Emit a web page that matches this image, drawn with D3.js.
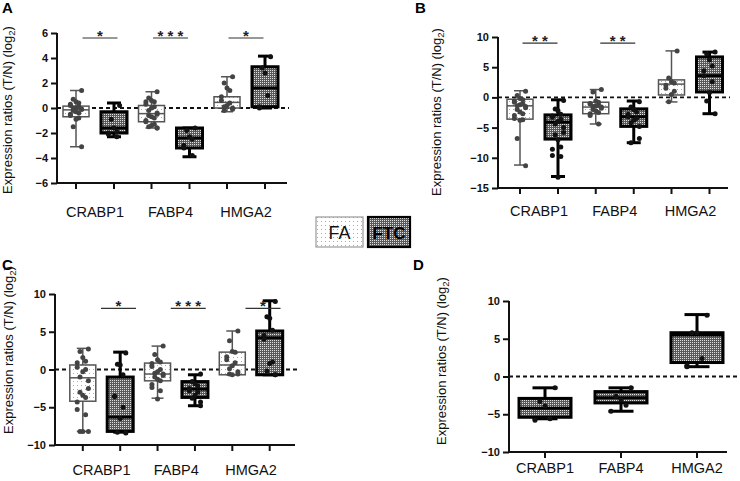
<!DOCTYPE html>
<html><head><meta charset="utf-8">
<script src="https://cdn.jsdelivr.net/npm/d3@7"></script>
<style>body{margin:0;background:#fff}svg{display:block;font-family:"Liberation Sans",Arial,sans-serif}</style>
</head><body><svg id="c" width="740" height="481"></svg>
<script>
const categories = ["CRABP1","FABP4","HMGA2"];
const groups = ["FA","FTC"];
// box stats: [min, q1, median, q3, max]
const statsA_FA  = [[-3.1,-0.7,-0.15,0.15,1.4],[-1.6,-1.1,-0.45,0.2,1.3],[-0.3,0.0,0.45,0.9,2.5]];
const statsA_FTC = [[-2.3,-2.0,-1.6,-0.3,0.4],[-3.9,-3.2,-2.4,-1.6,-1.6],[0.0,0.1,1.6,3.3,4.15]];
const statsB_FA  = [[-11.2,-3.6,-1.4,-0.3,1.1],[-4.4,-2.7,-1.6,-0.8,1.3],[-0.75,0.4,2.2,2.9,7.7]];
const statsB_FTC = [[-13.1,-6.9,-4.1,-2.9,-0.4],[-7.5,-4.8,-3.2,-1.9,-0.6],[-2.7,0.9,3.6,6.7,7.5]];
const statsC_FA  = [[-8.2,-4.2,-1.1,0.6,2.8],[-3.8,-1.5,-0.6,0.85,3.1],[-0.7,-0.7,0.6,2.3,5.1]];
const statsC_FTC = [[-8.3,-8.2,-6.3,-1.0,2.3],[-4.8,-3.7,-2.6,-1.6,-0.7],[-0.7,-0.7,4.2,5.1,9.1]];
const statsD     = [[-5.6,-5.4,-4.2,-2.9,-1.5],[-4.6,-3.5,-2.8,-2.0,-1.5],[1.3,1.85,5.5,5.8,8.2]];
// individual points
const ptsA_FA = [
 [1.4,0.7,0.5,0.4,0.3,0.2,0.1,0.0,0.0,-0.1,-0.1,-0.2,-0.3,-0.4,-0.5,-0.6,-0.8,-0.9,-1.5,-3.1],
 [1.3,0.8,0.6,0.5,0.5,0.3,0.1,0.0,-0.2,-0.4,-0.5,-0.6,-0.7,-0.8,-1.0,-1.1,-1.3,-1.4,-1.5,-1.6,-1.6],
 [2.5,2.0,1.6,1.4,0.9,0.6,0.4,0.2,0.1,0.0,-0.1,-0.2]];
const ptsA_FTC = [
 [0.2,-0.9,-1.6,-1.9,-2.0,-2.1,-2.3],
 [-1.6,-1.8,-2.3,-2.5,-3.0,-3.2,-3.8],
 [4.1,3.2,2.8,1.0,0.1,0.0]];
const ptsB_FA = [
 [1.0,0.3,-0.2,-0.4,-0.6,-0.8,-1.0,-1.2,-1.4,-1.5,-1.7,-2.0,-2.4,-2.7,-3.0,-3.5,-3.7,-3.8,-6.8,-11.3],
 [1.3,0.9,-0.6,-0.8,-1.0,-1.1,-1.3,-1.4,-1.5,-1.6,-1.8,-2.0,-2.2,-2.5,-2.7,-3.0,-4.4],
 [7.7,3.2,2.6,2.4,2.0,1.5,1.0,0.5,-0.7]];
const ptsB_FTC = [
 [-0.5,-1.9,-2.2,-2.8,-3.1,-3.3,-3.6,-4.0,-4.4,-5.0,-5.8,-6.2,-7.0,-8.2,-8.6,-9.6,-9.8,-13.2],
 [-0.7,-1.6,-2.0,-2.4,-2.8,-3.2,-3.5,-3.8,-4.2,-4.8,-6.8,-7.5],
 [7.5,7.2,6.2,5.2,4.4,3.6,2.6,0.8,-0.6,-2.7]];
const ptsC_FA = [
 [2.7,2.4,1.6,1.1,0.9,0.3,0.0,-0.3,-1.0,-1.5,-2.5,-3.0,-3.4,-3.7,-4.3,-5.3,-6.0,-8.2,-8.2,-8.2],
 [3.1,2.0,1.3,1.0,0.8,0.4,0.0,-0.3,-0.5,-0.6,-0.8,-1.0,-1.3,-1.5,-2.0,-2.4,-2.8,-3.9],
 [5.1,3.8,2.4,2.3,1.7,1.3,0.9,0.5,0.1,-0.3,-0.6,-0.6,-0.7]];
const ptsC_FTC = [
 [2.2,0.7,0.6,-0.7,-3.5,-3.6,-5.0,-6.5,-8.3,-8.3,-8.4],
 [-0.6,-1.6,-1.9,-2.2,-2.5,-2.8,-3.0,-3.4,-3.8,-4.3,-4.8],
 [9.0,7.0,6.8,5.2,4.5,4.0,1.0,0.8,-0.2,-0.7,-0.7]];
const ptsD = [[-1.5,-3.3,-3.9,-5.6,-5.8],[-1.5,-2.6,-3.1,-3.8,-4.6],[8.1,5.8,5.8,2.4,1.5,1.3]];
// significance: category, level, stars
const sigA = [["CRABP1",5.6,"*"],["FABP4",5.6,"* * *"],["HMGA2",5.6,"*"]];
const sigB = [["CRABP1",9.0,"* *"],["FABP4",9.0,"* *"]];
const sigC = [["CRABP1",8.1,"*"],["FABP4",8.1,"* * *"],["HMGA2",8.1,"*"]];
const ticksA = [-6,-4,-2,0,2,4,6];
const ticksB = [-15,-10,-5,0,5,10];
const ticksC = [-10,-5,0,5,10];
const ticksD = [-10,-5,0,5,10];
const yTitle = "Expression ratios (T/N) (log";

const svg = d3.select("#c");
const defs = svg.append("defs");
const pFA = defs.append("pattern").attr("id","pFA").attr("width",4).attr("height",4).attr("patternUnits","userSpaceOnUse");
pFA.append("rect").attr("width",4).attr("height",4).attr("fill","#fff");
pFA.append("rect").attr("x",1).attr("y",1).attr("width",1).attr("height",1).attr("fill","#aaa");
const pFTC = defs.append("pattern").attr("id","pFTC").attr("width",2).attr("height",2).attr("patternUnits","userSpaceOnUse");
pFTC.append("rect").attr("width",2).attr("height",2).attr("fill","#5a5a5a");
pFTC.append("rect").attr("width",1).attr("height",1).attr("fill","#e0e0e0");

const panels = [
 {letter:"A", lx:2, ly:13, ticks:ticksA, dom:[-6,6], yr:[183,33], ax:[57,287], cr:[95,246], off:19, bw:26,
  series:[{g:"FA",s:statsA_FA,p:ptsA_FA},{g:"FTC",s:statsA_FTC,p:ptsA_FTC}], sig:sigA, sigShift:[5,0,0],
  tx:12, ty:110, labY:217, zeroEnd:289},
 {letter:"B", lx:415, ly:13, ticks:ticksB, dom:[-15,10], yr:[188,37], ax:[498,728], cr:[539,690.5], off:19, bw:26,
  series:[{g:"FA",s:statsB_FA,p:ptsB_FA},{g:"FTC",s:statsB_FTC,p:ptsB_FTC}], sig:sigB, sigShift:[1,3,0],
  tx:441, ty:112, labY:216, zeroEnd:730},
 {letter:"C", lx:2, ly:270, ticks:ticksC, dom:[-10,10], yr:[445,294], ax:[55,295], cr:[101.5,251], off:18.7, bw:26,
  series:[{g:"FA",s:statsC_FA,p:ptsC_FA},{g:"FTC",s:statsC_FTC,p:ptsC_FTC}], sig:sigC, sigShift:[17,12,12],
  tx:13, ty:350, labY:475, zeroEnd:297},
 {letter:"D", lx:413, ly:270, ticks:ticksD, dom:[-10,10], yr:[452,301], ax:[509,727], cr:[545,697], off:0, bw:52,
  series:[{g:"FTC",s:statsD,p:ptsD}], sig:[], sigShift:[],
  tx:446, ty:361, labY:473, zeroEnd:740}
];

panels.forEach(P => {
  const g = svg.append("g");
  const y = d3.scaleLinear().domain(P.dom).range(P.yr);
  const x = d3.scalePoint().domain(categories).range(P.cr);
  const sub = d3.scalePoint().domain(P.series.map(s=>s.g)).range(P.series.length>1?[-P.off,P.off]:[0,0]);
  // panel letter
  g.append("text").attr("x",P.lx).attr("y",P.ly).attr("font-size",15).attr("font-weight","bold").text(P.letter);
  // y title
  const t = g.append("text").attr("transform",`translate(${P.tx},${P.ty}) rotate(-90)`).attr("text-anchor","middle")
    .attr("font-size",13).attr("fill","#111");
  t.append("tspan").text(yTitle);
  t.append("tspan").attr("font-size",9.5).attr("dy",3).text("2");
  t.append("tspan").attr("dy",-3).text(")");
  // y axis
  const ya = g.append("g").attr("transform",`translate(${P.ax[0]},0)`)
    .call(d3.axisLeft(y).tickValues(P.ticks).tickSize(6).tickPadding(3).tickFormat(d3.format("d")));
  ya.select(".domain").attr("stroke","#111").attr("stroke-width",2).attr("d",`M0,${y(P.dom[1])}V${y(P.dom[0])}`);
  ya.selectAll(".tick line").attr("stroke","#111").attr("stroke-width",2);
  ya.selectAll(".tick text").attr("font-size",11).attr("font-weight","bold").attr("fill","#111").attr("font-family","Liberation Sans, Arial");
  // x axis
  const yb = y(P.dom[0]);
  g.append("line").attr("x1",P.ax[0]-1).attr("x2",P.ax[1]).attr("y1",yb).attr("y2",yb).attr("stroke","#111").attr("stroke-width",2);
  const tickPos = [];
  categories.forEach(c => P.series.forEach(s => tickPos.push(x(c)+sub(s.g))));
  g.selectAll(".xt").data(tickPos).join("line").attr("x1",d=>d).attr("x2",d=>d).attr("y1",yb).attr("y2",yb+6)
    .attr("stroke","#111").attr("stroke-width",2);
  g.selectAll(".xl").data(categories).join("text").attr("x",d=>x(d)).attr("y",P.labY).attr("text-anchor","middle")
    .attr("font-size",14.5).attr("fill","#111").text(d=>d);
  // zero dashed line
  g.append("line").attr("x1",P.ax[0]).attr("x2",P.zeroEnd).attr("y1",y(0)).attr("y2",y(0))
    .attr("stroke","#111").attr("stroke-width",1.8).attr("stroke-dasharray","4,3");
  // boxes
  P.series.forEach(S => {
    const isFA = S.g==="FA";
    const col = isFA ? "#555" : "#000";
    const sw = isFA ? 1.5 : 3;
    const cap = P.off===0 ? 25 : (isFA ? 12 : 14);
    categories.forEach((c,i) => {
      const st = S.s[i];
      const cx = x(c)+sub(S.g);
      const bg = g.append("g");
      bg.append("line").attr("x1",cx).attr("x2",cx).attr("y1",y(st[4])).attr("y2",y(st[3])).attr("stroke",col).attr("stroke-width",sw);
      bg.append("line").attr("x1",cx).attr("x2",cx).attr("y1",y(st[1])).attr("y2",y(st[0])).attr("stroke",col).attr("stroke-width",sw);
      [st[0],st[4]].forEach(v => bg.append("line").attr("x1",cx-cap/2).attr("x2",cx+cap/2).attr("y1",y(v)).attr("y2",y(v)).attr("stroke",col).attr("stroke-width",sw));
      bg.append("rect").attr("x",cx-P.bw/2).attr("width",P.bw).attr("y",y(st[3])).attr("height",Math.max(1,y(st[1])-y(st[3])))
        .attr("fill",isFA?"url(#pFA)":"url(#pFTC)").attr("stroke",col).attr("stroke-width",sw);
      bg.append("line").attr("x1",cx-P.bw/2).attr("x2",cx+P.bw/2).attr("y1",y(st[2])).attr("y2",y(st[2])).attr("stroke",col).attr("stroke-width",sw);
      const pts = S.p[i];
      const spread = P.off===0 ? 5 : 2.8;
      bg.selectAll("circle").data(pts).join("circle")
        .attr("cx",(d,j)=>cx + ((j%5)-2)*spread*(j%2?1:-1))
        .attr("cy",d=>y(d)).attr("r",2.5).attr("fill",isFA?"#444":"#111");
    });
  });
  // significance
  P.sig.forEach((s,k) => {
    const ci = categories.indexOf(s[0]);
    const cx = x(s[0]) + P.sigShift[ci];
    const yy = y(s[1]);
    g.append("line").attr("x1",cx-17.5).attr("x2",cx+17.5).attr("y1",yy).attr("y2",yy).attr("stroke","#333").attr("stroke-width",1.2);
    g.append("text").attr("x",cx).attr("y",yy+2.5).attr("text-anchor","middle").attr("font-size",15).attr("font-weight","bold").attr("fill","#222").text(s[2]);
  });
});

// legend
const lg = svg.append("g");
lg.append("rect").attr("x",316).attr("y",217).attr("width",47).attr("height",30).attr("fill","url(#pFA)").attr("stroke","#999").attr("stroke-width",1.2);
lg.append("text").attr("x",339.5).attr("y",239).attr("text-anchor","middle").attr("font-size",18).attr("fill","#111").text(groups[0]);
lg.append("rect").attr("x",368).attr("y",217).attr("width",42).attr("height",30).attr("fill","url(#pFTC)").attr("stroke","#000").attr("stroke-width",2.2);
lg.append("text").attr("x",389).attr("y",239).attr("text-anchor","middle").attr("font-size",17).attr("font-weight","bold").attr("fill","#000").text(groups[1]);
</script></body></html>
